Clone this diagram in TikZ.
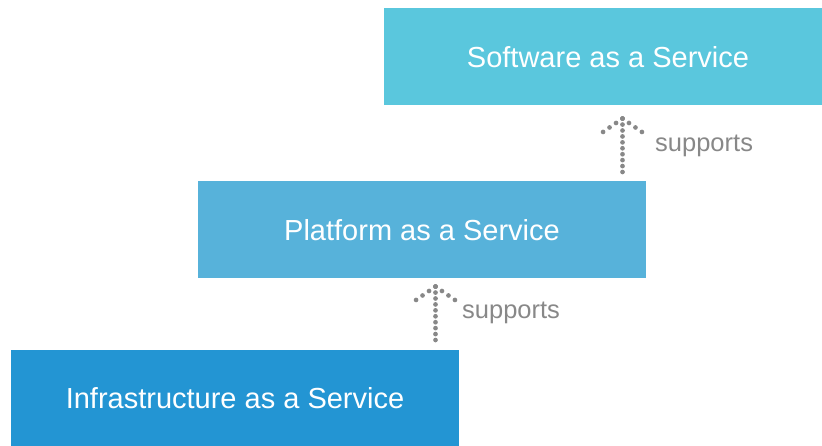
\documentclass[tikz,border=0pt]{standalone}
\usepackage{fontspec}
\setmainfont{Liberation Sans}
\definecolor{saas}{HTML}{5AC7DD}
\definecolor{paas}{HTML}{57B2DA}
\definecolor{iaas}{HTML}{2395D3}
\definecolor{lbl}{HTML}{888888}
\begin{document}
\begin{tikzpicture}[x=1pt,y=-1pt,
  layerbox/.style={draw=none,inner sep=0pt,minimum height=97pt,minimum width=448pt,text=white,font=\fontsize{29}{31}\selectfont},
  shaftdots/.style={draw=lbl,line width=4.7pt,line cap=round,dash pattern=on 0pt off 5.93pt},
  wingdots/.style={draw=lbl,line width=4.7pt,line cap=round,dash pattern=on 0pt off 7.88pt},
  lbltext/.style={text=lbl,font=\fontsize{25.5}{27}\selectfont,anchor=west,inner sep=0pt}]
\useasboundingbox (0,0) rectangle (822,445);
\begin{scope}
\clip (0,0) rectangle (822,445);
\node[layerbox,fill=saas] (saas) at (608,56.8) {Software as a Service};
\node[layerbox,fill=paas] (paas) at (422,229.8) {Platform as a Service};
\node[layerbox,fill=iaas] (iaas) at (235,398.5) {Infrastructure as a Service};
\end{scope}
% arrow 1
\coordinate (t1) at (622.5,172);
\coordinate (h1) at (622.5,118.5);
\coordinate (l1) at (603,132);
\coordinate (r1) at (642,132);
\draw[shaftdots] (t1) -- (h1);
\draw[wingdots] (h1) -- (l1);
\draw[wingdots] (h1) -- (r1);
\node[lbltext] (s1) at (655,145.5) {supports};
% arrow 2
\coordinate (t2) at (435.5,340);
\coordinate (h2) at (435.5,286.5);
\coordinate (l2) at (416,300);
\coordinate (r2) at (455,300);
\draw[shaftdots] (t2) -- (h2);
\draw[wingdots] (h2) -- (l2);
\draw[wingdots] (h2) -- (r2);
\node[lbltext] (s2) at (462,312.5) {supports};
\end{tikzpicture}
\end{document}
